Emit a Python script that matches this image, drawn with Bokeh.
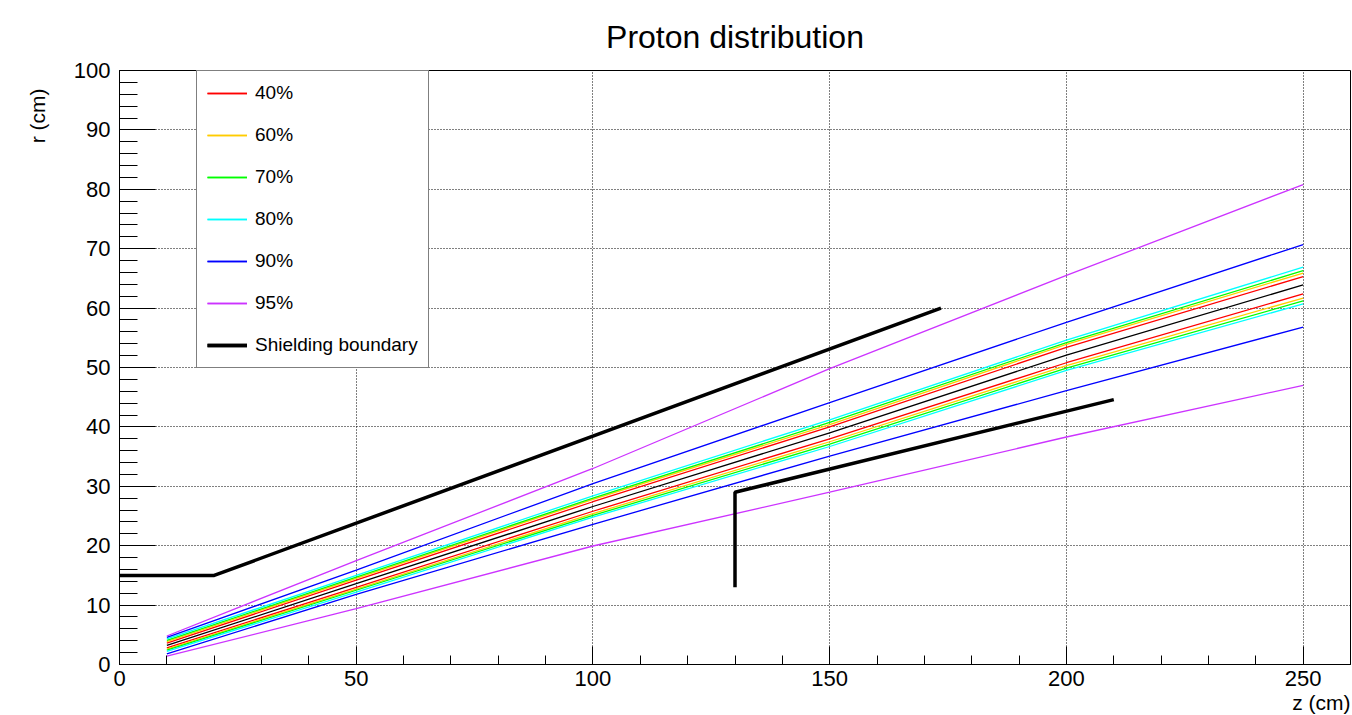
from bokeh.plotting import figure
from bokeh.models import (Range1d, SingleIntervalTicker, Legend, LegendItem, Title)
from bokeh.embed import file_html
from bokeh.resources import INLINE

# ---- data ----
z_pts = [10, 50, 100, 150, 200, 250]

r_center = [3.2, 13.6, 26.6, 39.0, 52.1, 63.9]

r40_up = [3.6, 14.2, 27.4, 40.0, 53.4, 65.3]
r40_lo = [2.8, 13.0, 25.8, 38.0, 50.8, 62.4]
r60_up = [3.85, 14.5, 27.8, 40.4, 53.9, 65.9]
r60_lo = [2.6, 12.7, 25.4, 37.5, 50.3, 61.7]
r70_up = [4.05, 14.7, 28.0, 40.75, 54.2, 66.3]
r70_lo = [2.4, 12.5, 25.1, 37.1, 49.9, 61.2]
r80_up = [4.3, 15.0, 28.4, 41.2, 54.6, 66.9]
r80_lo = [2.2, 12.2, 24.8, 36.7, 49.5, 60.7]
r90_up = [4.55, 15.9, 30.45, 44.1, 57.6, 70.7]
r90_lo = [1.8, 11.8, 23.6, 35.1, 46.1, 56.8]
r95_up = [4.8, 17.5, 33.0, 49.8, 65.5, 80.8]
r95_lo = [1.4, 9.4, 19.95, 29.0, 38.3, 47.0]

shield_outer_z = [0, 20, 173.5]
shield_outer_r = [15, 15, 60]
shield_inner_z = [130, 130, 210]
shield_inner_r = [13, 29, 44.6]

labels = ["40%", "60%", "70%", "80%", "90%", "95%"]
colors = ["#ff0000", "#ffcc00", "#00ff00", "#00ffff", "#0000ff", "#cc33ff"]
ups = [r40_up, r60_up, r70_up, r80_up, r90_up, r95_up]
los = [r40_lo, r60_lo, r70_lo, r80_lo, r90_lo, r95_lo]

FONT = "Liberation Sans"

p = figure(width=1352, height=715, x_range=Range1d(0, 260), y_range=Range1d(0, 100),
           output_backend="svg", toolbar_location=None,
           min_border_left=119, min_border_right=2, min_border_top=70, min_border_bottom=51)
p.background_fill_color = "white"
p.border_fill_color = "white"
p.outline_line_color = "black"
p.outline_line_width = 1

p.title.text = "Proton distribution"
p.title.align = "center"
p.title.text_font = FONT
p.title.text_font_size = "32px"
p.title.text_font_style = "normal"
p.title.text_color = "black"
p.title.standoff = 32

p.xaxis.ticker = SingleIntervalTicker(interval=50, num_minor_ticks=5)
p.yaxis.ticker = SingleIntervalTicker(interval=10, num_minor_ticks=5)
for ax in (p.xaxis[0], p.yaxis[0]):
    ax.axis_line_color = "black"
    ax.major_tick_line_color = "black"
    ax.minor_tick_line_color = "black"
    ax.major_tick_out = 0
    ax.minor_tick_out = 0
    ax.major_label_text_font = FONT
    ax.major_label_text_font_size = "22px"
    ax.major_label_text_color = "black"
p.xaxis.major_tick_in = 18
p.xaxis.minor_tick_in = 9
p.yaxis.major_tick_in = 36
p.yaxis.minor_tick_in = 18
p.xaxis.major_label_standoff = 6
p.yaxis.major_label_standoff = 9

for g in (p.xgrid[0], p.ygrid[0]):
    g.grid_line_color = "black"
    g.grid_line_dash = "1 2"
    g.grid_line_width = 1
    g.grid_line_alpha = 1.0

items = []
for lab, col, up, lo in zip(labels, colors, ups, los):
    r1 = p.line(z_pts, up, line_color=col, line_width=1.3)
    r2 = p.line(z_pts, lo, line_color=col, line_width=1.3)
    items.append(LegendItem(label=lab, renderers=[r1, r2]))

p.line(z_pts, r_center, line_color="black", line_width=1.3)

s1 = p.line(shield_outer_z, shield_outer_r, line_color="black", line_width=3.5)
s2 = p.line(shield_inner_z, shield_inner_r, line_color="black", line_width=3.5)
items.append(LegendItem(label="Shielding boundary", renderers=[s1, s2]))

legend = Legend(items=items, location=(77, 296))
legend.border_line_color = "black"
legend.border_line_width = 1
legend.background_fill_color = "white"
legend.background_fill_alpha = 1
legend.padding = 10
legend.margin = 0
legend.spacing = 18
legend.glyph_width = 40
legend.glyph_height = 24
legend.label_height = 24
legend.label_standoff = 8
legend.label_text_font = FONT
legend.label_text_font_size = "19px"
legend.label_text_color = "black"
p.add_layout(legend)

xt = Title(text="z (cm)", align="right", text_font=FONT, text_font_size="21px",
           text_font_style="normal", text_color="black", standoff=0)
p.add_layout(xt, "below")
yt = Title(text="r (cm)", align="right", text_font=FONT, text_font_size="21px",
           text_font_style="normal", text_color="black", standoff=44, offset=18)
p.add_layout(yt, "left")

open("out.html", "w").write(file_html(p, INLINE))
